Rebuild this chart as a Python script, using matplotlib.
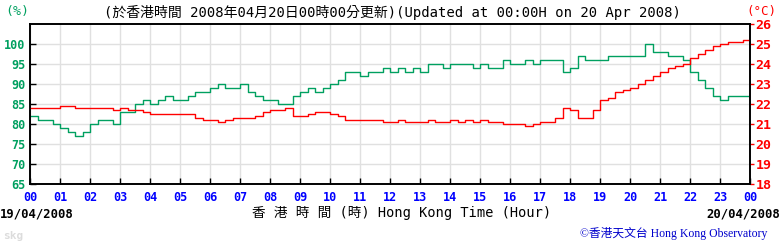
import matplotlib
matplotlib.use("Agg")
import matplotlib.pyplot as plt

# 15-minute readings, 00:00 19/04 -> 00:00 20/04
hours = [i * 0.25 for i in range(97)]
rh = [82, 81, 81, 80, 79, 78, 77, 78, 80, 81, 81, 80,
      83, 83, 85, 86, 85, 86, 87, 86, 86, 87, 88, 88,
      89, 90, 89, 89, 90, 88, 87, 86, 86, 85, 85, 87,
      88, 89, 88, 89, 90, 91, 93, 93, 92, 93, 93, 94,
      93, 94, 93, 94, 93, 95, 95, 94, 95, 95, 95, 94,
      95, 94, 94, 96, 95, 95, 96, 95, 96, 96, 96, 93,
      94, 97, 96, 96, 96, 97, 97, 97, 97, 97, 100, 98,
      98, 97, 97, 96, 93, 91, 89, 87, 86, 87, 87, 87, 87]
temp = [21.8, 21.8, 21.8, 21.8, 21.9, 21.9, 21.8, 21.8, 21.8, 21.8, 21.8, 21.7,
        21.8, 21.7, 21.7, 21.6, 21.5, 21.5, 21.5, 21.5, 21.5, 21.5, 21.3, 21.2,
        21.2, 21.1, 21.2, 21.3, 21.3, 21.3, 21.4, 21.6, 21.7, 21.7, 21.8, 21.4,
        21.4, 21.5, 21.6, 21.6, 21.5, 21.4, 21.2, 21.2, 21.2, 21.2, 21.2, 21.1,
        21.1, 21.2, 21.1, 21.1, 21.1, 21.2, 21.1, 21.1, 21.2, 21.1, 21.2, 21.1,
        21.2, 21.1, 21.1, 21.0, 21.0, 21.0, 20.9, 21.0, 21.1, 21.1, 21.3, 21.8,
        21.7, 21.3, 21.3, 21.7, 22.2, 22.3, 22.6, 22.7, 22.8, 23.0, 23.2, 23.4,
        23.6, 23.8, 23.9, 24.0, 24.3, 24.5, 24.7, 24.9, 25.0, 25.1, 25.1, 25.2, 25.1]
hour_labels = ["%02d" % (h % 24) for h in range(25)]
rh_ticks = [65, 70, 75, 80, 85, 90, 95, 100]
temp_ticks = [18, 19, 20, 21, 22, 23, 24, 25, 26]

GREEN = "#00a060"
RED = "#ff0000"
BLUE = "#0000ff"
MONO = ["DejaVu Sans Mono", "Noto Sans CJK TC"]

fig = plt.figure(figsize=(7.8, 2.42), dpi=100)
ax = fig.add_axes([30 / 780, 58 / 242, 720 / 780, 160 / 242])
ax2 = ax.twinx()

ax.step(hours, rh, where="post", color=GREEN, lw=1.0)
ax2.step(hours, temp, where="post", color=RED, lw=1.0)

ax.set_xlim(0, 24)
ax.set_ylim(65, 105)
ax2.set_ylim(18, 26)

ax.set_xticks(range(25))
ax.set_xticklabels(hour_labels, family=MONO, fontweight="bold", color=BLUE, fontsize=8.5)
ax.set_yticks(rh_ticks)
ax.set_yticklabels([str(v) for v in rh_ticks], family=MONO, fontweight="bold", color=GREEN, fontsize=8.5)
ax2.set_yticks(temp_ticks)
ax2.set_yticklabels([str(v) for v in temp_ticks], family=MONO, fontweight="bold", color=RED, fontsize=9.5)

ax.tick_params(axis="x", direction="in", length=4, width=1, pad=5)
ax.tick_params(axis="y", direction="in", length=4, width=1, pad=3.5)
ax2.tick_params(axis="y", direction="out", length=3, width=1, color=RED, pad=1)

ax.grid(True, color="#e0e0e0", lw=1)
ax.set_axisbelow(True)
for a in (ax, ax2):
    for s in a.spines.values():
        s.set_color("black")
        s.set_linewidth(1.2)

fig.text(5 / 780, 1 - 12 / 242, "(%)", family=MONO, color=GREEN, fontsize=9.5, va="center")
fig.text(776 / 780, 1 - 12 / 242, "(°C)", family=MONO, color=RED, fontsize=9, va="center", ha="right")
fig.text(392 / 780, 1 - 12 / 242,
         "(於香港時間 2008年04月20日00時00分更新)(Updated at 00:00H on 20 Apr 2008)",
         family=MONO, fontsize=10, ha="center", va="center")
fig.text(0, 1 - 214 / 242, "19/04/2008", family=MONO, fontweight="bold", fontsize=8.8, va="center")
fig.text(1, 1 - 214 / 242, "20/04/2008", family=MONO, fontweight="bold", fontsize=8.8, va="center", ha="right")
fig.text(402 / 780, 1 - 213 / 242, "香 港 時 間 (時) Hong Kong Time (Hour)",
         family=MONO, fontsize=9.8, ha="center", va="center")
fig.text(3 / 780, 1 - 236 / 242, "skg", family=MONO, fontweight="bold", color="#dcdcdc", fontsize=8, va="center")
fig.text(767 / 780, 1 - 233 / 242, "©香港天文台 Hong Kong Observatory",
         family=["Liberation Serif", "Noto Sans CJK TC"], color="#0000cc", fontsize=8.5, ha="right", va="center")

fig.savefig("out.png", dpi=100)
